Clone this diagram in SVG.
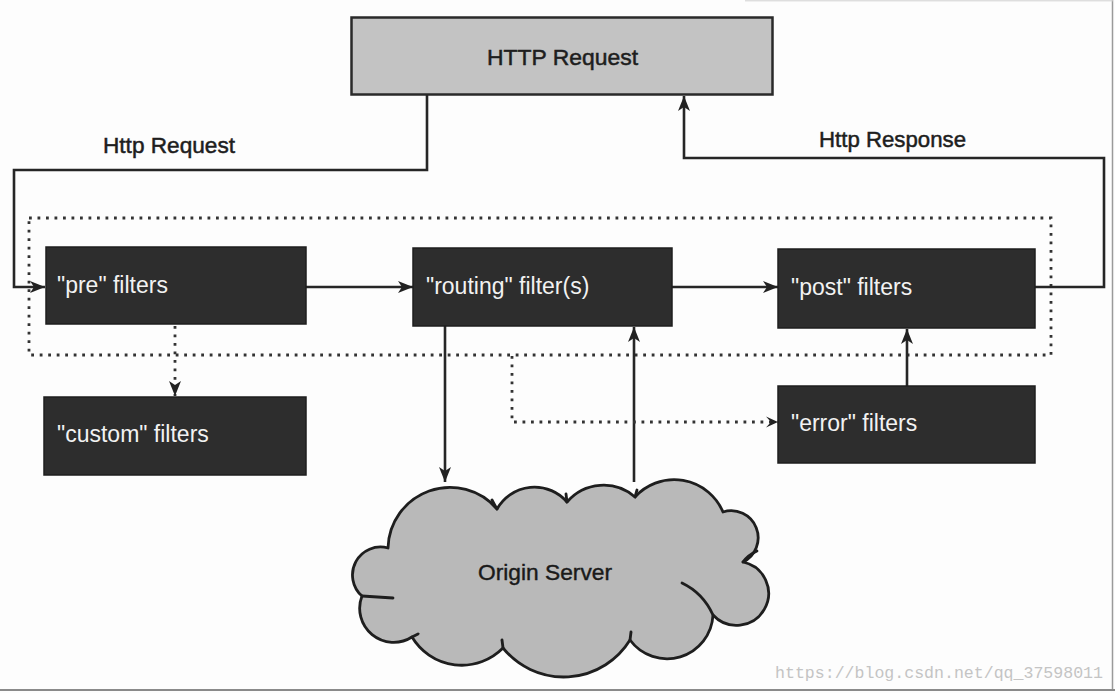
<svg xmlns="http://www.w3.org/2000/svg" width="1115" height="693" viewBox="0 0 1115 693">
  <defs>
    <marker id="arr" markerUnits="userSpaceOnUse" markerWidth="16" markerHeight="14" refX="15" refY="7" orient="auto">
      <path d="M0,1 L15,7 L0,13 L4,7 z" fill="#222"/>
    </marker>
    <marker id="chev" markerUnits="userSpaceOnUse" markerWidth="14" markerHeight="12" refX="12" refY="6" orient="auto">
      <path d="M0,0.5 L12,6 L0,11.5 L5,6 z" fill="#222"/>
    </marker>
    <style>
      .bg { fill: #fdfdfd; }
      .box { fill: #2d2d2d; stroke: #1e1e1e; stroke-width: 1.5; }
      .wt { font-family: "Liberation Sans", Arial, sans-serif; font-size: 23px; fill: #f2f2f2; }
      .lbl { font-family: "Liberation Sans", Arial, sans-serif; font-size: 22.5px; fill: #1e1e1e; stroke: #1e1e1e; stroke-width: 0.5; }
      .ln { fill: none; stroke: #262626; stroke-width: 2.6; }
      .dot { fill: none; stroke: #333; stroke-width: 2.8; stroke-dasharray: 2.8 5.7; }
    </style>
  </defs>

  <rect class="bg" x="0" y="0" width="1115" height="693"/>
  <!-- scan border -->
  <line x1="1112.5" y1="0" x2="1112.5" y2="690" stroke="#9a9a9a" stroke-width="1.5"/>
  <line x1="0" y1="690" x2="1115" y2="690" stroke="#8a8a8a" stroke-width="2"/>
  <line x1="745" y1="0.8" x2="1113" y2="0.8" stroke="#d0d0d0" stroke-width="1"/>

  <!-- dotted boundary -->
  <rect class="dot" x="29" y="218" width="1022" height="137"/>

  <g id="connectors">
    <polyline class="ln" points="427,95 427,170 14,170 14,287 45,287" marker-end="url(#arr)"/>
    <line class="ln" x1="306" y1="287" x2="413" y2="287" marker-end="url(#arr)"/>
    <line class="ln" x1="672" y1="287" x2="778" y2="287" marker-end="url(#arr)"/>
    <polyline class="ln" points="1035,287 1104,287 1104,158 684,158 684,96" marker-end="url(#arr)"/>
    <line class="ln" x1="445" y1="326" x2="445" y2="482" marker-end="url(#arr)"/>
    <line class="ln" x1="634" y1="482" x2="634" y2="327" marker-end="url(#arr)"/>
    <line class="ln" x1="907" y1="386" x2="907" y2="329" marker-end="url(#arr)"/>
    <line class="dot" x1="175" y1="326" x2="175" y2="396" marker-end="url(#arr)"/>
    <polyline class="dot" points="512,356 512,422 778,422" marker-end="url(#chev)"/>
  </g>

  <g id="http-request">
    <rect x="351.5" y="17.5" width="421" height="77" fill="#c3c3c3" stroke="#2a2a2a" stroke-width="2.5"/>
    <text class="lbl" x="487" y="65" textLength="151" lengthAdjust="spacingAndGlyphs">HTTP Request</text>
  </g>

  <g id="label-http-request">
    <text class="lbl" x="103" y="153" textLength="132" lengthAdjust="spacingAndGlyphs">Http Request</text>
  </g>
  <g id="label-http-response">
    <text class="lbl" x="819" y="147" textLength="147" lengthAdjust="spacingAndGlyphs">Http Response</text>
  </g>

  <g id="pre-filters">
    <rect class="box" x="46" y="247" width="260" height="77"/>
    <text class="wt" x="57" y="293">"pre" filters</text>
  </g>

  <g id="routing-filters">
    <rect class="box" x="413" y="248" width="259" height="78"/>
    <text class="wt" x="426" y="294">"routing" filter(s)</text>
  </g>

  <g id="post-filters">
    <rect class="box" x="778" y="249" width="257" height="79"/>
    <text class="wt" x="791" y="295">"post" filters</text>
  </g>

  <g id="custom-filters">
    <rect class="box" x="44" y="397" width="262" height="78"/>
    <text class="wt" x="57" y="442">"custom" filters</text>
  </g>

  <g id="error-filters">
    <rect class="box" x="778" y="386" width="257" height="77"/>
    <text class="wt" x="791" y="431">"error" filters</text>
  </g>

  <g id="origin-server">
    <path d="M388,548 A62,62 0 0 1 497,509 A43,43 0 0 1 567,502 A48,48 0 0 1 635,497 A53,53 0 0 1 723,512 A27,27 0 0 1 743,562 A32,32 0 1 1 713,615 A46,46 0 0 1 630,640 A78,78 0 0 1 503,648 A58,58 0 0 1 412,637 A34,34 0 0 1 362,596 A28,28 0 0 1 388,548 Z" fill="#b9b9b9" stroke="#1e1e1e" stroke-width="2.8" stroke-linejoin="round"/>
    <g fill="none" stroke="#1e1e1e" stroke-width="2.8" stroke-linecap="round">
      <path d="M682,583 Q703,593 713,615"/>
      <path d="M362,596 Q378,597 393,598"/>
      <path d="M743,562 Q748,555 757,551"/>
      <path d="M497,509 Q494,504 492,500"/>
      <path d="M567,502 L566,494"/>
      <path d="M635,497 L637,490"/>
      <path d="M630,640 L631,632"/>
      <path d="M503,648 L502,640"/>
      <path d="M412,637 L418,634"/>
    </g>
    <text x="478" y="580" font-family="Liberation Sans, Arial, sans-serif" font-size="22.5" fill="#1a1a1a" stroke="#1a1a1a" stroke-width="0.4" textLength="134" lengthAdjust="spacingAndGlyphs">Origin Server</text>
  </g>

  <text x="775" y="678" font-family="Liberation Mono, monospace" font-size="16.5" fill="#c4c4c4" textLength="328" lengthAdjust="spacingAndGlyphs">https://blog.csdn.net/qq_37598011</text>
</svg>
